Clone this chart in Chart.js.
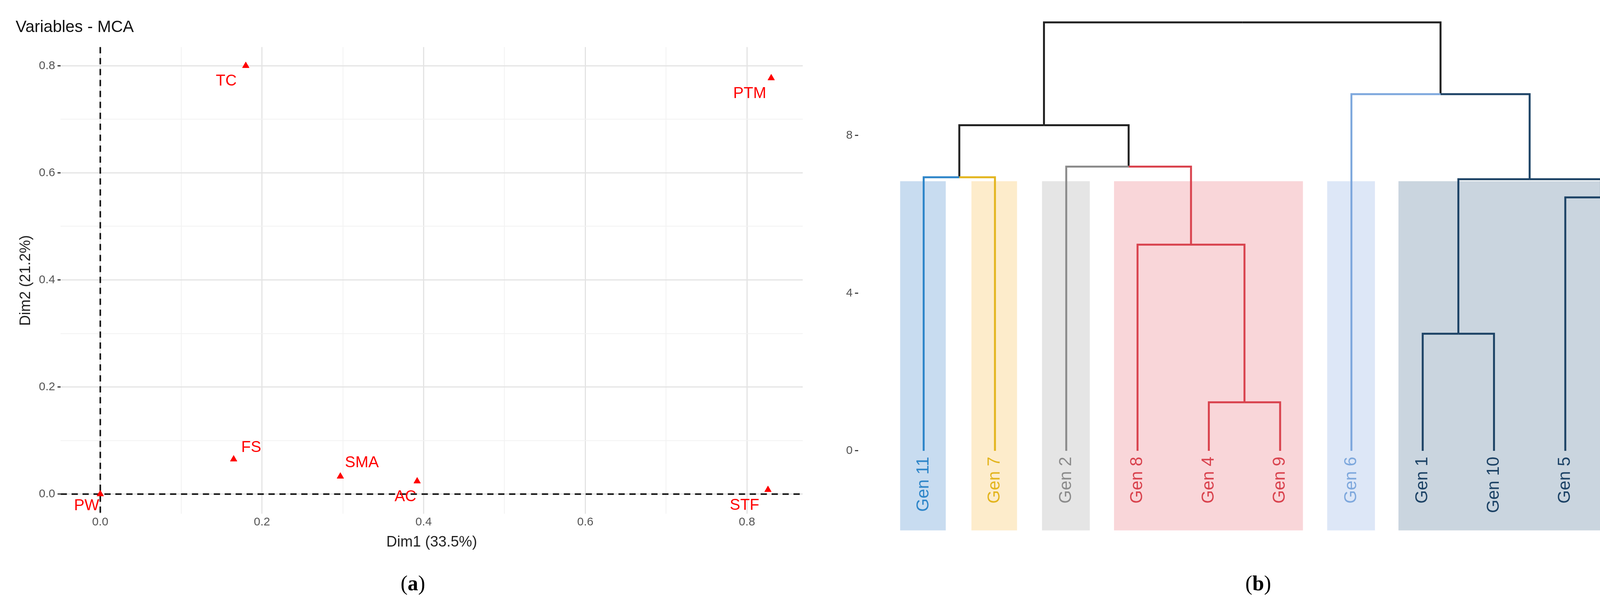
<!DOCTYPE html>
<html><head><meta charset="utf-8">
<script src="https://cdn.jsdelivr.net/npm/chart.js@4"></script>
<style>
html,body{margin:0;padding:0;background:#fff}
body{width:4259px;height:1564px;position:relative;overflow:hidden;font-family:"Liberation Sans",Arial,sans-serif}
#w1{position:absolute;left:0;top:0;width:2100px;height:1420px}
#w2{position:absolute;left:2100px;top:0;width:2159px;height:1420px}
.cap{position:absolute;top:1462px;font-family:"Liberation Serif","DejaVu Serif",serif;font-size:54px;transform:translateX(-50%)}
</style></head><body>
<div id="w1"><canvas id="c1"></canvas></div>
<div id="w2"><canvas id="c2"></canvas></div>
<div class="cap" style="left:1057px">(<b>a</b>)</div>
<div class="cap" style="left:3221px">(<b>b</b>)</div>
<script>
// ---- Panel (a) data ----
const mcaLabels = ["TC","PTM","FS","SMA","AC","STF","PW"];
const mcaDim1 = [0.180,0.830,0.165,0.297,0.392,0.826,0.000];
const mcaDim2 = [0.800,0.777,0.065,0.033,0.024,0.008,0.000];
const mcaLabelOffset = [[-50,40],[-55,40],[45,-30],[55,-35],[-30,40],[-60,40],[-35,30]];
const mcaTicks = [0,0.2,0.4,0.6,0.8];
const mcaGrid = [0,0.1,0.2,0.3,0.4,0.5,0.6,0.7,0.8];

// ---- Panel (b) data ----
const leafNames = ["Gen 11","Gen 7","Gen 2","Gen 8","Gen 4","Gen 9","Gen 6","Gen 1","Gen 10","Gen 5","Gen 3"];
const leafColors = ["#2f86c9","#e3b51f","#8c8c8c","#d9434e","#d9434e","#d9434e","#7ea8dd","#1d4366","#1d4366","#1d4366","#1d4366"];
// merges: children are leaf indices or "m"+merge index
const mergeLeft  = [4,   7,   9,   "m1", 0,   3,   2,   6,   "m6","m7"];
const mergeRight = [5,   8,   10,  "m2", 1,   "m0","m5","m3","m4","m8"];
const mergeHeight= [1.23,2.97,6.43,6.89, 6.94,5.23,7.21,9.05,8.26,10.87];
const mergeColL  = ["#d9434e","#1d4366","#1d4366","#1d4366","#2f86c9","#d9434e","#8c8c8c","#7ea8dd","#222222","#222222"];
const mergeColR  = ["#d9434e","#1d4366","#1d4366","#1d4366","#e3b51f","#d9434e","#d9434e","#1d4366","#222222","#222222"];
const rectX0 = [-0.33,0.67,1.66,2.67,5.66,6.66];
const rectX1 = [0.31,1.31,2.33,5.32,6.33,10.32];
const rectTop = 6.84, rectBottom = -2.02;
const rectColors = ["#c8dcf0","#fdeccb","#e5e5e5","#f9d6d9","#dde7f7","#cad5df"];
const dendTicks = [0,4,8];

const isMajor = v => mcaTicks.some(t=>Math.abs(t-v)<1e-6);

// ---- Panel (a) chart ----
const mcaPlugin = {
  id:'mca',
  beforeDatasetsDraw(ch){
    const {ctx,scales:{x,y},chartArea:a}=ch;
    ctx.save();ctx.strokeStyle='#111';ctx.lineWidth=4;ctx.setLineDash([16,12]);
    ctx.beginPath();ctx.moveTo(x.getPixelForValue(0),a.top);ctx.lineTo(x.getPixelForValue(0),a.bottom);
    ctx.moveTo(a.left,y.getPixelForValue(0));ctx.lineTo(a.right,y.getPixelForValue(0));ctx.stroke();ctx.restore();
  },
  afterDatasetsDraw(ch){
    const {ctx,scales:{x,y}}=ch;
    ctx.save();ctx.fillStyle='#ff0000';ctx.font='40px "Liberation Sans", Arial';ctx.textAlign='center';ctx.textBaseline='middle';
    mcaLabels.forEach((l,i)=>{ctx.fillText(l,x.getPixelForValue(mcaDim1[i])+mcaLabelOffset[i][0],y.getPixelForValue(mcaDim2[i])+mcaLabelOffset[i][1]);});
    ctx.restore();
  }
};
new Chart(document.getElementById('c1'),{
  type:'scatter',
  data:{datasets:[{data:mcaDim1.map((v,i)=>({x:v,y:mcaDim2[i]})),pointStyle:'triangle',pointRadius:10,backgroundColor:'#ff0000',borderColor:'#ff0000'}]},
  plugins:[mcaPlugin],
  options:{responsive:true,maintainAspectRatio:false,animation:false,devicePixelRatio:1,
    layout:{padding:{left:40,right:45,top:20,bottom:5}},
    plugins:{legend:{display:false},tooltip:{enabled:false},
      title:{display:true,text:'Variables - MCA',align:'start',color:'#111',font:{size:42,family:'Liberation Sans',weight:'normal'},padding:{top:25,bottom:25}}},
    scales:{
      x:{min:-0.049,max:0.869,border:{display:false},
        afterBuildTicks(s){s.ticks=mcaGrid.map(v=>({value:v}));},
        ticks:{color:'#555',font:{size:30},callback:v=>isMajor(v)?v.toFixed(1):''},
        grid:{color:c=>isMajor(c.tick.value)?'#e4e4e4':'#f2f2f2',lineWidth:c=>isMajor(c.tick.value)?3:2,drawTicks:false},
        title:{display:true,text:'Dim1 (33.5%)',color:'#222',font:{size:38},padding:{top:8}}},
      y:{min:-0.037,max:0.835,border:{display:false},
        afterBuildTicks(s){s.ticks=mcaGrid.map(v=>({value:v}));},
        ticks:{color:'#555',font:{size:30},padding:6,callback:v=>isMajor(v)?v.toFixed(1):''},
        grid:{color:c=>isMajor(c.tick.value)?'#e4e4e4':'#f2f2f2',lineWidth:c=>isMajor(c.tick.value)?3:2,drawTicks:true,tickLength:8,tickColor:c=>isMajor(c.tick.value)?'#333':'rgba(0,0,0,0)'},
        title:{display:true,text:'Dim2 (21.2%)',color:'#222',font:{size:38}}}
    }}
});

// ---- Panel (b) chart ----
const nodeX = {};
const posOf = c => typeof c==='number'?c:nodeX[c];
const hOf = c => typeof c==='number'?0:mergeHeight[+c.slice(1)];
const segs=[];
mergeLeft.forEach((L,i)=>{
  const R=mergeRight[i];
  const xl=posOf(L),xr=posOf(R),h=mergeHeight[i],mid=(xl+xr)/2;
  nodeX['m'+i]=mid;
  segs.push({data:[{x:xl,y:hOf(L)},{x:xl,y:h},{x:mid,y:h}],color:mergeColL[i]});
  segs.push({data:[{x:xr,y:hOf(R)},{x:xr,y:h},{x:mid,y:h}],color:mergeColR[i]});
});
const dendPlugin={
  id:'dend',
  beforeDatasetsDraw(ch){
    const {ctx,scales:{x,y}}=ch;ctx.save();
    rectX0.forEach((v,i)=>{ctx.fillStyle=rectColors[i];
      const l=x.getPixelForValue(v),r=x.getPixelForValue(rectX1[i]),t=y.getPixelForValue(rectTop),b=y.getPixelForValue(rectBottom);
      ctx.fillRect(l,t,r-l,b-t);});
    ctx.restore();
  },
  afterDatasetsDraw(ch){
    const {ctx,scales:{x,y}}=ch;ctx.save();ctx.font='44px "Liberation Sans", Arial';ctx.textAlign='right';ctx.textBaseline='middle';
    leafNames.forEach((n,i)=>{ctx.save();ctx.translate(x.getPixelForValue(i),y.getPixelForValue(-0.15));ctx.rotate(-Math.PI/2);ctx.fillStyle=leafColors[i];ctx.fillText(n,0,0);ctx.restore();});
    ctx.restore();
  }
};
new Chart(document.getElementById('c2'),{
  type:'scatter',
  data:{datasets:segs.map(s=>({data:s.data,showLine:true,borderColor:s.color,borderWidth:5,pointRadius:0,fill:false}))},
  plugins:[dendPlugin],
  options:{responsive:true,maintainAspectRatio:false,animation:false,devicePixelRatio:1,
    layout:{padding:{left:60,right:0,top:20,bottom:20}},
    plugins:{legend:{display:false},tooltip:{enabled:false}},
    scales:{
      x:{display:false,min:-0.92,max:10.38},
      y:{min:-2.4,max:11.2,border:{display:false},
        afterBuildTicks(s){s.ticks=dendTicks.map(v=>({value:v}));},
        ticks:{color:'#555',font:{size:30},padding:6},
        grid:{display:true,drawOnChartArea:false,drawTicks:true,tickLength:8,tickColor:'#444',lineWidth:3}}
    }}
});
</script>
</body></html>
